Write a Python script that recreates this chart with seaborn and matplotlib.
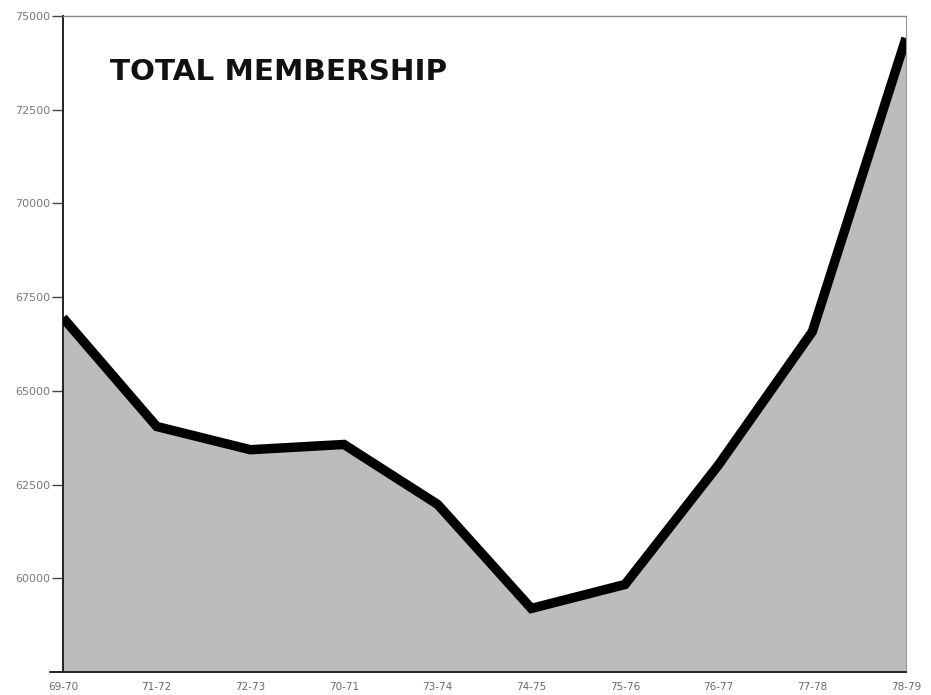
import matplotlib
matplotlib.use("Agg")
import matplotlib.pyplot as plt
import seaborn as sns
import numpy as np
import pandas as pd

seasons = ["69-70", "71-72", "72-73", "70-71", "73-74", "74-75", "75-76", "76-77", "77-78", "78-79"]
membership = [66950, 64050, 63430, 63570, 61970, 59195, 59835, 63030, 66580, 74410]
y_ticks = [60000, 62500, 65000, 67500, 70000, 72500, 75000]

sns.set_theme(style="white")
plt.rcParams['font.family'] = ['DejaVu Sans']

df = pd.DataFrame({"pos": np.arange(len(seasons)), "season": seasons, "members": membership})

fig = plt.figure(figsize=(9.31, 6.95), dpi=100)
ax = fig.add_axes([63/931, 23/695, (906-63)/931, (672-16)/695])

ymin, ymax = 57500, 75000
ax.fill_between(df["pos"], df["members"], ymin, color="#bcbcbc", linewidth=0, zorder=1)
sns.lineplot(data=df, x="pos", y="members", ax=ax, color="black", linewidth=6.8,
             solid_joinstyle="miter", solid_capstyle="butt", zorder=3, clip_on=True)

ax.set_xlim(0, len(seasons) - 1)
ax.set_ylim(ymin, ymax)
ax.set_xticks(df["pos"])
ax.set_xticklabels(seasons)
ax.set_yticks(y_ticks)
ax.set_yticklabels([str(v) for v in y_ticks])
ax.set_xlabel("")
ax.set_ylabel("")

ax.tick_params(axis="y", direction="out", length=8, width=1.0, color="#444444",
               labelsize=8, labelcolor="#7a7a7a", pad=1, left=True)
ax.tick_params(axis="x", length=0, labelsize=7.5, labelcolor="#6a6a6a", pad=7)

for side in ["left", "bottom"]:
    ax.spines[side].set_color("#222222")
    ax.spines[side].set_linewidth(1.4)
ax.spines["top"].set_color("#888888")
ax.spines["top"].set_linewidth(1.0)
ax.spines["right"].set_color("#999999")
ax.spines["right"].set_linewidth(0.8)

# bottom baseline extends slightly left of the axis
ax.plot([-0.14, 0], [ymin, ymin], color="#222222", linewidth=1.4, clip_on=False, zorder=5)

ax.text(0.056, 0.915, "TOTAL MEMBERSHIP", transform=ax.transAxes, fontsize=21.2,
        fontweight="bold", color="#111111", ha="left", va="center")

fig.savefig("out.png", dpi=100)
